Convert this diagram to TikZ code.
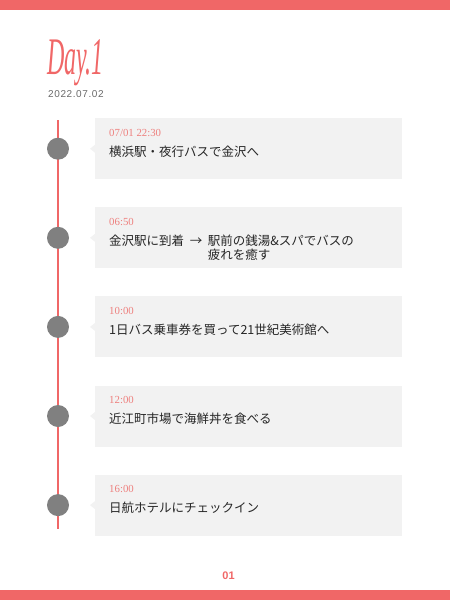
\documentclass[tikz,border=0pt]{standalone}
\usepackage{fontspec}
\setmainfont{Liberation Serif}
\setsansfont{Liberation Sans}
\newfontfamily\jpfont{Noto Sans CJK JP}
\newfontfamily\datefont[LetterSpace=6]{Liberation Sans}
\usetikzlibrary{positioning}
\definecolor{dayred}{RGB}{240,103,103}
\definecolor{timered}{RGB}{238,128,126}
\definecolor{boxgray}{RGB}{242,242,242}
\definecolor{dotgray}{RGB}{128,128,128}
\definecolor{dategray}{RGB}{105,105,105}

\begin{document}
\begin{tikzpicture}[x=1pt, y=-1pt,
    node distance=27.7pt,
    event/.style={rectangle, fill=boxgray, minimum width=307pt,
                  minimum height=61pt, inner sep=0pt},
    dot/.style={circle, fill=dotgray, minimum size=22pt, inner sep=0pt},
    rail/.style={dayred, line width=2.8pt},
    timelbl/.style={font=\fontsize{10.8}{12}\selectfont, text=timered, inner sep=0pt},
    evtext/.style={font=\jpfont\fontsize{12.5}{14}\selectfont, text=black!85, inner sep=0pt},
    bar/.style={fill=dayred}
  ]
    \useasboundingbox (0,0) rectangle (450,600);
    \fill[bar] (0,0) rectangle (450,10);
    \fill[bar] (0,590) rectangle (450,600);

    % title
    \node[font=\itshape\fontsize{24}{26}\selectfont, text=dayred, anchor=base west, inner sep=0pt]
      (day) at (47,74) {\scalebox{1}[2.2]{Day.1}};
    \node[font=\datefont\fontsize{10}{12}\selectfont, text=dategray, anchor=base west, inner sep=0pt]
      (date) at (48,97) {2022.07.02};

    % event boxes
    \node[event, anchor=north west] (ev1) at (95,118) {};
    \node[event, below=of ev1] (ev2) {};
    \node[event, below=of ev2] (ev3) {};
    \node[event, below=of ev3] (ev4) {};
    \node[event, below=of ev4] (ev5) {};

    \fill[boxgray] ([yshift=4pt]ev1.west) -- ([xshift=-5pt]ev1.west) -- ([yshift=-4pt]ev1.west) -- cycle;
    \fill[boxgray] ([yshift=4pt]ev2.west) -- ([xshift=-5pt]ev2.west) -- ([yshift=-4pt]ev2.west) -- cycle;
    \fill[boxgray] ([yshift=4pt]ev3.west) -- ([xshift=-5pt]ev3.west) -- ([yshift=-4pt]ev3.west) -- cycle;
    \fill[boxgray] ([yshift=4pt]ev4.west) -- ([xshift=-5pt]ev4.west) -- ([yshift=-4pt]ev4.west) -- cycle;
    \fill[boxgray] ([yshift=4pt]ev5.west) -- ([xshift=-5pt]ev5.west) -- ([yshift=-4pt]ev5.west) -- cycle;

    % timeline
    \coordinate (railtop) at (58,120);
    \coordinate (railbot) at (58,529);
    \draw[rail] (railtop) -- (railbot);
    \node[dot] (d1) at (railtop |- ev1.west) {};
    \node[dot] (d2) at (railtop |- ev2.west) {};
    \node[dot] (d3) at (railtop |- ev3.west) {};
    \node[dot] (d4) at (railtop |- ev4.west) {};
    \node[dot] (d5) at (railtop |- ev5.west) {};

    % texts
    \node[timelbl, anchor=base west] (tm1) at ([xshift=14pt, yshift=-18pt]ev1.north west) {07/01 22:30};
    \node[evtext, anchor=base west] (tx1) at ([yshift=-20pt]tm1.base west) {横浜駅・夜行バスで金沢へ};

    \node[timelbl, anchor=base west] (tm2) at ([xshift=14pt, yshift=-18pt]ev2.north west) {06:50};
    \node[evtext, anchor=base west] (tx2) at ([yshift=-20pt]tm2.base west) {金沢駅に到着 \ → \ 駅前の銭湯\&スパでバスの};
    \node[evtext, anchor=base west] (tx2b) at ([yshift=-14pt]tx2.base west) {\phantom{金沢駅に到着 \ → \ }疲れを癒す};

    \node[timelbl, anchor=base west] (tm3) at ([xshift=14pt, yshift=-18pt]ev3.north west) {10:00};
    \node[evtext, anchor=base west] (tx3) at ([yshift=-20pt]tm3.base west) {1日バス乗車券を買って21世紀美術館へ};

    \node[timelbl, anchor=base west] (tm4) at ([xshift=14pt, yshift=-18pt]ev4.north west) {12:00};
    \node[evtext, anchor=base west] (tx4) at ([yshift=-20pt]tm4.base west) {近江町市場で海鮮丼を食べる};

    \node[timelbl, anchor=base west] (tm5) at ([xshift=14pt, yshift=-18pt]ev5.north west) {16:00};
    \node[evtext, anchor=base west] (tx5) at ([yshift=-20pt]tm5.base west) {日航ホテルにチェックイン};

    % page number
    \node[font=\sffamily\bfseries\fontsize{11}{12}\selectfont, text=dayred, anchor=base, inner sep=0pt]
      (pg) at (228.5,579) {01};
  \end{tikzpicture}
\end{document}
